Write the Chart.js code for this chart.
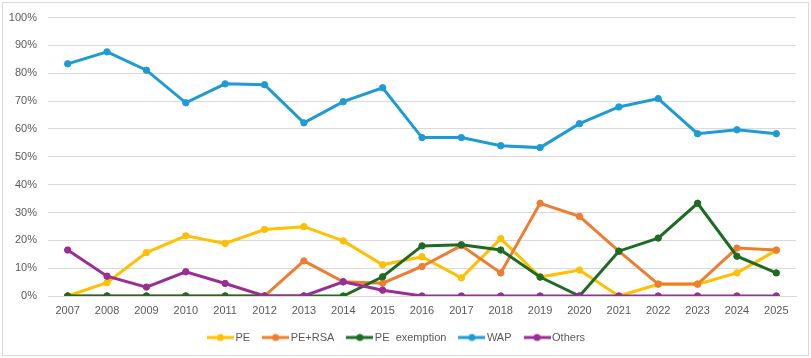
<!DOCTYPE html>
<html>
<head>
<meta charset="utf-8">
<script src="https://cdn.jsdelivr.net/npm/chart.js@4"></script>
<style>
  html, body { margin: 0; padding: 0; background: #fff; }
  #wrap { width: 811px; height: 358px; position: relative; }
</style>
</head>
<body>
<div id="wrap"><canvas id="shareChart" width="811" height="358"></canvas></div>
<script>
const years = ['2007', '2008', '2009', '2010', '2011', '2012', '2013', '2014', '2015', '2016',
               '2017', '2018', '2019', '2020', '2021', '2022', '2023', '2024', '2025'];

const pe          = [0, 4.8, 15.6, 21.6, 18.9, 23.9, 24.9, 19.8, 11.2, 14.1, 6.5, 20.6, 6.8, 9.3, 0, 4.2, 4.2, 8.3, 16.4];
const peRsa       = [0, 0, 0, 0, 0, 0, 12.6, 5.1, 4.6, 10.6, 18.1, 8.3, 33.3, 28.6, 16.1, 4.3, 4.3, 17.2, 16.5];
const peExemption = [0, 0, 0, 0, 0, 0, 0, 0, 6.9, 18.0, 18.4, 16.5, 6.8, 0, 16.1, 20.8, 33.3, 14.3, 8.3];
const wap         = [83.4, 87.7, 81.1, 69.4, 76.2, 75.9, 62.2, 69.8, 74.8, 56.9, 56.9, 54.0, 53.3, 61.9, 67.9, 70.9, 58.3, 59.7, 58.3];
const others      = [16.5, 7.1, 3.2, 8.7, 4.5, 0, 0, 5.1, 2.1, 0, 0, 0, 0, 0, 0, 0, 0, 0, 0];

const yTicks = [0, 10, 20, 30, 40, 50, 60, 70, 80, 90, 100];

const FONT = "'Liberation Sans', Arial, sans-serif";

// small line-with-dot picture for the legend, like the Excel legend key
function legendKey(color) {
    const c = document.createElement('canvas');
    c.width = 27; c.height = 10;
    const g = c.getContext('2d');
    g.strokeStyle = color;
    g.lineWidth = 3;
    g.beginPath();
    g.moveTo(0, 5);
    g.lineTo(27, 5);
    g.stroke();
    g.fillStyle = color;
    g.beginPath();
    g.arc(13.5, 5, 3.5, 0, Math.PI * 2);
    g.fill();
    return c;
}

function series(label, values, color, order) {
    return {
        label: label,
        data: values,
        borderColor: color,
        backgroundColor: color,
        pointBackgroundColor: color,
        pointBorderColor: color,
        borderWidth: 3,
        pointRadius: 3.2,
        pointBorderWidth: 1,
        pointStyle: 'circle',
        legendImg: legendKey(color),
        tension: 0,
        order: order
    };
}

const datasets = [
    series('PE', pe, '#FFC000', 5),
    series('PE+RSA', peRsa, '#ED7D31', 4),
    series('PE  exemption', peExemption, '#1E6B24', 3),
    series('WAP', wap, '#1F9BD4', 2),
    series('Others', others, '#992E95', 1)
];

const frame = {
    id: 'frame',
    beforeDraw(chart) {
        const g = chart.ctx;
        g.save();
        g.fillStyle = '#fff';
        g.fillRect(0, 0, chart.width, chart.height);
        g.strokeStyle = '#d9d9d9';
        g.lineWidth = 1;
        g.strokeRect(2.5, 2.5, chart.width - 5, chart.height - 5);
        g.restore();
    }
};

const ctx = document.getElementById('shareChart').getContext('2d');

new Chart(ctx, {
    type: 'line',
    data: { labels: years, datasets: datasets },
    plugins: [frame],
    options: {
        responsive: false,
        animation: false,
        layout: { padding: { left: 0, right: 15, top: 9, bottom: 5 } },
        scales: {
            x: {
                offset: true,
                grid: { display: false, drawTicks: false },
                border: { display: true, color: '#d9d9d9', width: 1 },
                ticks: { color: '#595959', font: { family: FONT, size: 11 }, padding: 8, maxRotation: 0, autoSkip: false },
                afterFit(axis) { axis.height = 20; }
            },
            y: {
                min: 0,
                max: 100,
                afterBuildTicks(axis) { axis.ticks = yTicks.map(v => ({ value: v })); },
                grid: { color: '#d9d9d9', lineWidth: 1, drawTicks: false },
                border: { display: false },
                ticks: {
                    color: '#595959',
                    font: { family: FONT, size: 11 },
                    padding: 11,
                    callback: v => v + '%'
                },
                afterFit(axis) { axis.width = 48; }
            }
        },
        plugins: {
            legend: {
                display: true,
                position: 'bottom',
                labels: {
                    usePointStyle: true,
                    pointStyleWidth: 19,
                    boxHeight: 10,
                    padding: 16,
                    color: '#595959',
                    font: { family: FONT, size: 11 },
                    generateLabels(chart) {
                        return chart.data.datasets.map((d, i) => ({
                            text: d.label,
                            fillStyle: d.borderColor,
                            strokeStyle: d.borderColor,
                            fontColor: '#595959',
                            lineWidth: 0,
                            pointStyle: d.legendImg,
                            hidden: false,
                            datasetIndex: i
                        }));
                    }
                }
            },
            tooltip: { enabled: false }
        }
    }
});
</script>
</body>
</html>
